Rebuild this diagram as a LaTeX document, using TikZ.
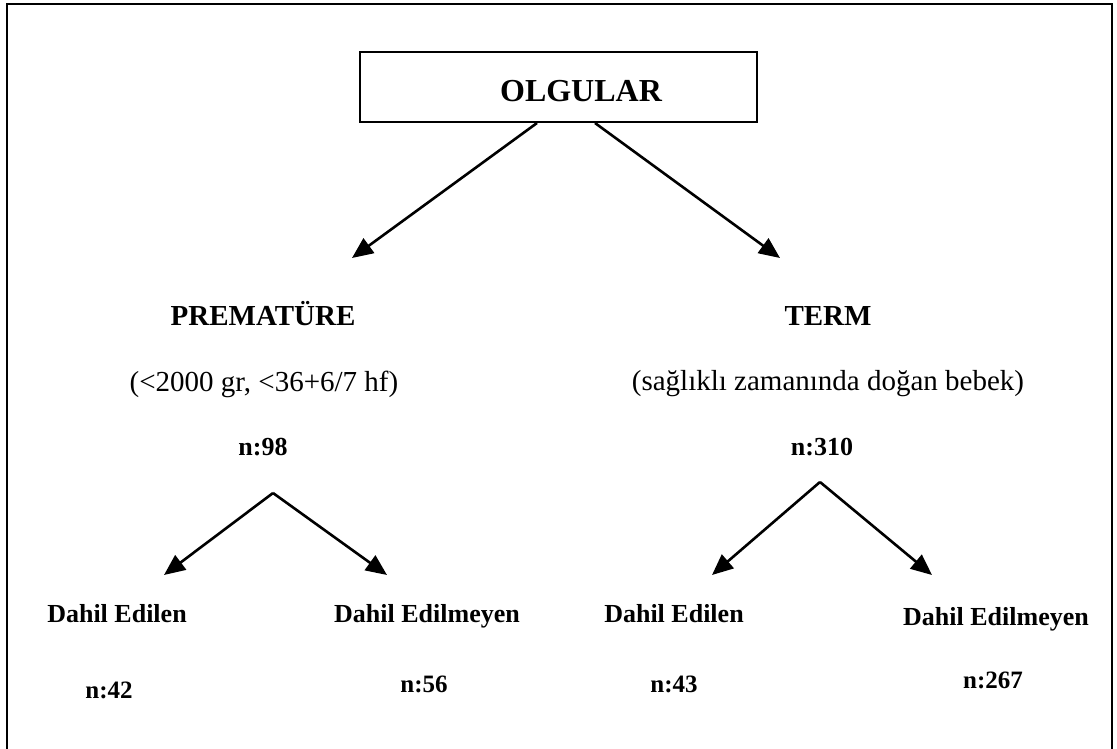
\documentclass[tikz,border=0pt]{standalone}
\usepackage{fontspec}
\setmainfont{Liberation Serif}
\usetikzlibrary{arrows.meta}
\begin{document}
\begin{tikzpicture}[x=1pt,y=-1pt,
 title/.style={font=\fontsize{32}{36}\selectfont\bfseries, inner sep=0, anchor=base},
 hd/.style={font=\fontsize{29}{34}\selectfont\bfseries, inner sep=0, anchor=base},
 sub/.style={font=\fontsize{29}{34}\selectfont, inner sep=0, anchor=base},
 cnt/.style={font=\fontsize{26}{30}\selectfont\bfseries, inner sep=0, anchor=base},
 cnts/.style={font=\fontsize{25}{30}\selectfont\bfseries, inner sep=0, anchor=base},
 lf/.style={font=\fontsize{26}{30}\selectfont\bfseries, inner sep=0, anchor=base},
 arr/.style={line width=2.6pt, -{Triangle[length=21pt,width=18pt]}},
 frame/.style={line width=2.6pt}]
\useasboundingbox (0,0) rectangle (1117,749);
\draw[frame] (7,749) -- (7,4) -- (1112,4) -- (1112,749);
% top box
\node[draw, line width=2.6pt, minimum width=397pt, minimum height=70pt, inner sep=0] (top) at (558.5,87) {};
\node[title] (olg) at (581,102) {OLGULAR};
% level 2
\node[hd] (prem) at (263,325) {PREMATÜRE};
\node[sub] (premd) at (264,391) {(<2000 gr, <36+6/7 hf)};
\node[cnt] (n98) at (263,455) {n:98};
\node[hd] (term) at (828,325) {TERM};
\node[sub] (termd) at (828,390) {(sağlıklı zamanında doğan bebek)};
\node[cnt] (n310) at (822,455) {n:310};
% level 3
\node[lf] (dl1) at (117,622) {Dahil Edilen};
\node[lf] (dl2) at (427,622) {Dahil Edilmeyen};
\node[lf] (dr1) at (674,622) {Dahil Edilen};
\node[lf] (dr2) at (996,625) {Dahil Edilmeyen};
\node[cnts] (c42) at (109,698) {n:42};
\node[cnts] (c56) at (424,692) {n:56};
\node[cnts] (c43) at (674,692) {n:43};
\node[cnts] (c267) at (993,688) {n:267};
% arrow coordinates
\coordinate (s1) at (537,123);
\coordinate (s2) at (595,123);
\coordinate (t1) at (352,258);
\coordinate (t2) at (780,258);
\coordinate (a1) at (273,493);
\coordinate (a2) at (820,482);
\coordinate (l1) at (164,575);
\coordinate (l2) at (387,575);
\coordinate (r1) at (712,575);
\coordinate (r2) at (932,575);
\draw[arr] (s1) -- (t1);
\draw[arr] (s2) -- (t2);
\draw[arr] (a1) -- (l1);
\draw[arr] (a1) -- (l2);
\draw[arr] (a2) -- (r1);
\draw[arr] (a2) -- (r2);
\end{tikzpicture}
\end{document}
